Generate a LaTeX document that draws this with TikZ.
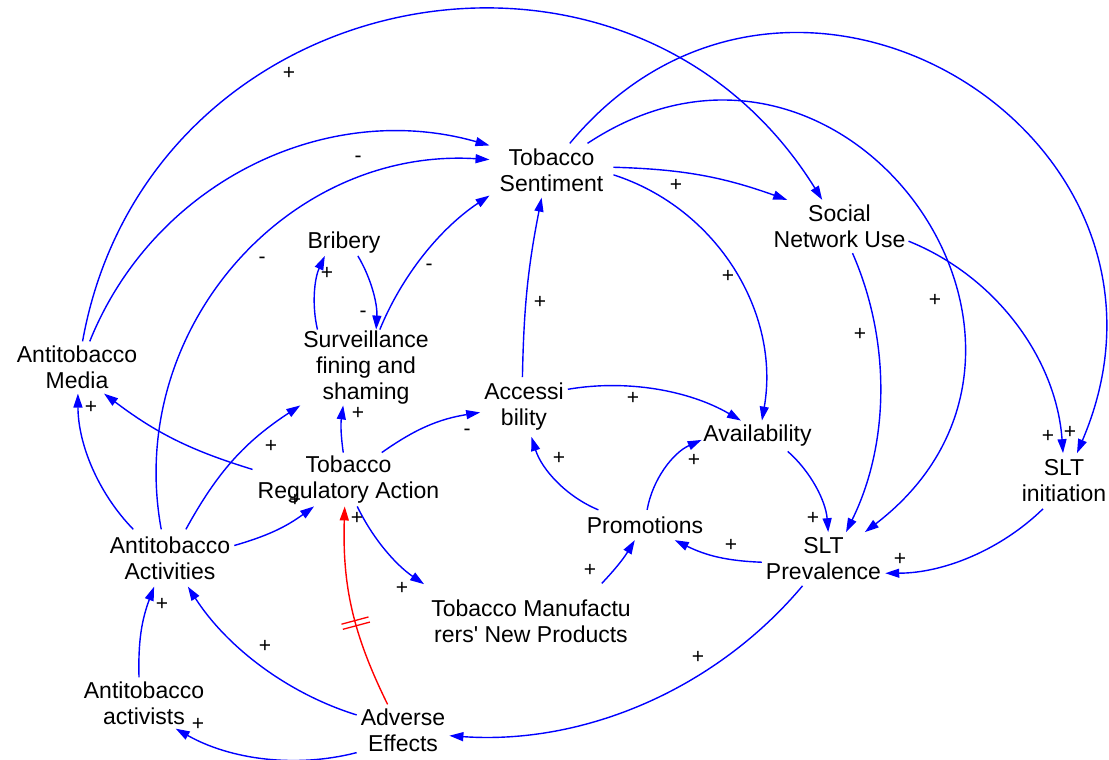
\documentclass[tikz,border=0pt]{standalone}
\usepackage{fontspec}
\setmainfont{Liberation Sans}
\usetikzlibrary{arrows.meta}
\begin{document}
\begin{tikzpicture}[x=1pt,y=1pt,
  var/.style={font=\fontsize{23}{26}\selectfont, align=center, inner xsep=3pt, inner ysep=5pt},
  lnk/.style={draw={rgb,255:red,0;green,0;blue,255}, line width=1.4pt, -{Triangle[length=14pt,width=9pt]}},
  dly/.style={draw={rgb,255:red,255;green,0;blue,0}, line width=1.4pt, -{Triangle[length=14pt,width=9pt]}},
  dmark/.style={sloped, inner sep=0pt, text={rgb,255:red,255;green,0;blue,0}},
  pol/.style={font=\fontsize{21}{21}\selectfont, inner sep=0pt}]
\useasboundingbox (0,0) rectangle (1109,-760);
\fill[white] (0,0) rectangle (1109,-760);

% variables
\node[var, inner xsep=10pt, inner ysep=5.5pt] (TS) at (551.5,-170.5) {Tobacco\\Sentiment};
\node[var, inner xsep=3pt, inner ysep=5pt] (SN) at (839.5,-226.5) {Social\\Network Use};
\node[var, inner xsep=3pt, inner ysep=2pt] (BR) at (344,-243) {Bribery};
\node[var, inner xsep=3pt, inner ysep=1pt] (SV) at (366,-367.5) {Surveillance\\fining and\\shaming};
\node[var, inner ysep=4.5pt] (AM) at (77,-367.5) {Antitobacco\\Media};
\node[var, inner xsep=4pt, inner ysep=6pt] (AC) at (524,-407) {Accessi\\bility};
\node[var, inner xsep=1.5pt, inner ysep=4.5pt] (AV) at (757.5,-436) {Availability};
\node[var, inner xsep=5pt, inner ysep=3pt] (TR) at (348.5,-479.5) {Tobacco\\Regulatory Action};
\node[var, inner ysep=6.5pt] (SI) at (1064,-481) {SLT\\initiation};
\node[var, inner ysep=6.5pt] (PR) at (645,-525) {Promotions};
\node[var, inner xsep=4pt, inner ysep=5.5pt] (SP) at (823.5,-559) {SLT\\Prevalence};
\node[var, inner xsep=4pt, inner ysep=7pt] (AA) at (170,-558) {Antitobacco\\Activities};
\node[var, inner xsep=7pt, inner ysep=16pt] (TM) at (531,-621) {Tobacco Manufactu\\rers\textquotesingle{} New Products};
\node[var, inner ysep=4pt] (AT) at (144,-703) {Antitobacco\\activists};
\node[var, inner xsep=4pt, inner ysep=4pt] (AE) at (403,-730) {Adverse\\Effects};

% links
\draw[lnk] (AM.78.9) to[bend left=69, looseness=1.25] (SN.123.4);
\draw[lnk] (AM.64.8) to[bend left=42, looseness=0.98] (TS.158.1);
\draw[lnk] (AA.107.1) to[bend left=52, looseness=1.05] (TS.170.6);
\draw[lnk] (SV.70.6) to[bend left=17, looseness=0.87] (TS.202.2);
\draw[lnk] (BR.317.3) to[bend left=17, looseness=0.87] (SV.75.2);
\draw[lnk] (SV.142.8) to[bend left=19, looseness=0.87] (BR.214.4);
\draw[lnk] (AC.93.9) to[bend left=5] (TS.250.3);
\draw[lnk] (TS.3.3) to[bend left=9] (SN.153.6);
\draw[lnk] (TS.356.7) to[bend left=41, looseness=0.97] (AV.74.3);
\draw[lnk] (TS.37.8) to[bend left=88, looseness=1.65] (SP.33.05);
\draw[lnk] (TS.56.1) to[bend left=81.7, looseness=1.49] (SI.65.1);
\draw[lnk] (SN.348.9) to[bend left=32, looseness=0.92] (SI.92);
\draw[lnk] (SN.296.1) to[bend left=25, looseness=0.89] (SP.50.4);
\draw[lnk] (AC.22.7) to[bend left=20, looseness=0.87] (AV.137.6);
\draw[lnk] (PR.162.3) to[bend left=25, looseness=0.89] (AC.284.9);
\draw[lnk] (PR.82.4) to[bend left=28, looseness=0.9] (AV.184.1);
\draw[lnk] (AV.333.1) to[bend left=22, looseness=0.88] (SP.80.2);
\draw[lnk] (SP.183.8) to[bend left=12] (PR.333.4);
\draw[lnk] (SI.233.1) to[bend left=22, looseness=0.88] (SP.347.4);
\draw[lnk] (TM.28.8) to[bend right=6] (PR.236.3);
\draw[lnk] (SP.232.5) to[bend left=27, looseness=0.9] (AE.353.8);
\draw[lnk] (TR.39.6) to[bend left=13] (AC.187.9);
\draw[lnk] (TR.101.3) to[bend left=8] (SV.239.4);
\draw[lnk] (TR.174.3) to[bend left=10] (AM.316.6);
\draw[lnk] (AA.142.4) to[bend left=22, looseness=0.88] (AM.272.2);
\draw[lnk] (AA.61.8) to[bend left=14] (SV.210);
\draw[lnk] (AA.11.1) to[bend right=10] (TR.218.8);
\draw[lnk] (TR.288.4) to[bend right=15, looseness=0.87] (TM.161.6);
\draw[dly] (AE.121.6) to[bend left=14]
   node[dmark, pos=0.42] {\rule{1.3pt}{28pt}\hspace{4pt}\rule{1.3pt}{28pt}} (TR.262.2);
\draw[lnk] (AE.162.7) to[bend left=20, looseness=0.87] (AA.302.2);
\draw[lnk] (AT.101.3) to[bend left=11] (AA.241.8);
\draw[lnk] (AE.206.6) to[bend left=22, looseness=0.88] (AT.321.5);

% polarities
\node[pol] (p1) at (289,-73) {+};
\node[pol] (p2) at (358,-159.5) {-};
\node[pol] (p3) at (262,-260.5) {-};
\node[pol] (p4) at (429,-267.5) {-};
\node[pol] (p5) at (363,-314.5) {-};
\node[pol] (p6) at (327,-273) {+};
\node[pol] (p7) at (540,-302) {+};
\node[pol] (p8) at (676,-185) {+};
\node[pol] (p9) at (728,-276) {+};
\node[pol] (p10) at (935,-300) {+};
\node[pol] (p11) at (1070,-432) {+};
\node[pol] (p12) at (1048,-436) {+};
\node[pol] (p13) at (860,-334) {+};
\node[pol] (p14) at (633,-398) {+};
\node[pol] (p15) at (559,-458) {+};
\node[pol] (p16) at (694,-460) {+};
\node[pol] (p17) at (813,-518) {+};
\node[pol] (p18) at (731,-545) {+};
\node[pol] (p19) at (900,-559) {+};
\node[pol] (p20) at (590,-570) {+};
\node[pol] (p21) at (698,-657) {+};
\node[pol] (p22) at (467,-432.5) {-};
\node[pol] (p23) at (358,-413) {+};
\node[pol] (p24) at (91,-407) {+};
\node[pol] (p25) at (271,-446) {+};
\node[pol] (p26) at (295,-500) {+};
\node[pol] (p27) at (357,-518) {+};
\node[pol] (p28) at (402,-588) {+};
\node[pol] (p29) at (265,-646) {+};
\node[pol] (p30) at (162,-604) {+};
\node[pol] (p31) at (198,-724) {+};
\end{tikzpicture}
\end{document}
